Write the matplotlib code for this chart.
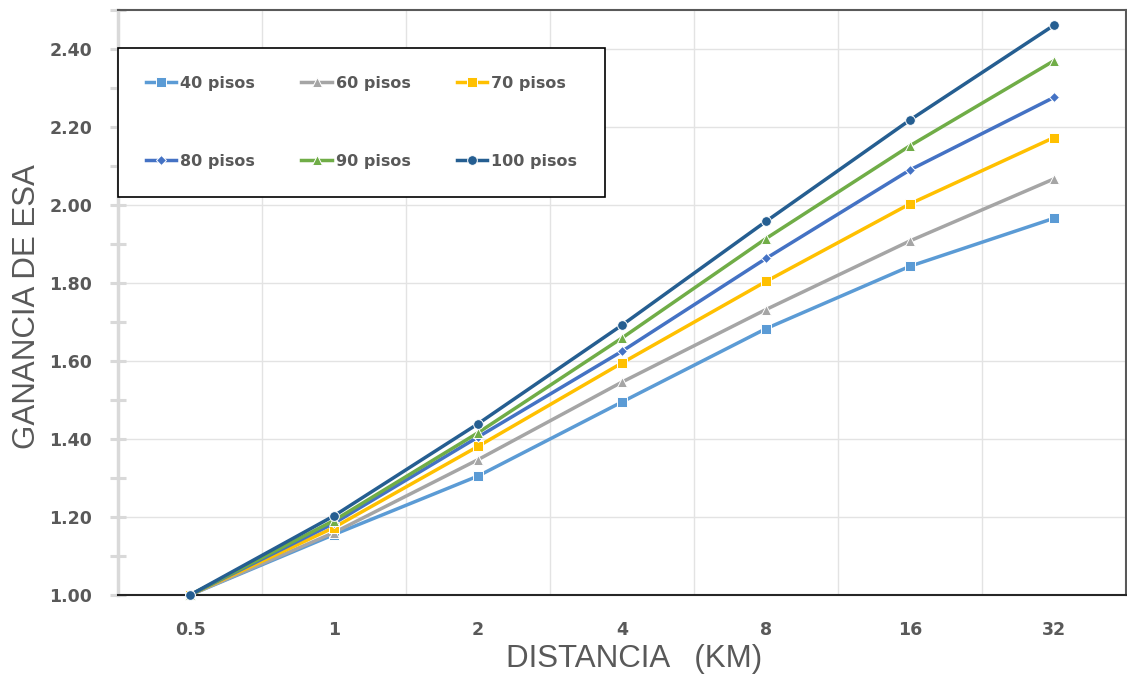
import numpy as np
import matplotlib
matplotlib.use('Agg')
import matplotlib.pyplot as plt
from matplotlib.ticker import MultipleLocator, FixedLocator

# Datos
distancias = ['0.5', '1', '2', '4', '8', '16', '32']
series = ['40 pisos', '60 pisos', '70 pisos', '80 pisos', '90 pisos', '100 pisos']
g40 = [1.00, 1.155, 1.305, 1.495, 1.683, 1.843, 1.966]
g60 = [1.00, 1.160, 1.347, 1.546, 1.732, 1.908, 2.067]
g70 = [1.00, 1.173, 1.381, 1.595, 1.804, 2.003, 2.173]
g80 = [1.00, 1.184, 1.405, 1.625, 1.863, 2.090, 2.276]
g90 = [1.00, 1.191, 1.416, 1.659, 1.914, 2.152, 2.370]
g100 = [1.00, 1.203, 1.439, 1.692, 1.958, 2.218, 2.461]

colores = ['#5B9BD5', '#A5A5A5', '#FFC000', '#4472C4', '#70AD47', '#255E91']
marcadores = ['s', '^', 's', 'D', '^', 'o']
tam_marc = [6.5, 7, 7, 5.5, 7, 7]

gris = '#595959'

fig = plt.figure(figsize=(11.27, 6.78), dpi=100)
ax = fig.add_axes([118 / 1127, 1 - 595 / 678, 1008 / 1127, 585 / 678])

x = np.arange(len(distancias))
lineas = []
for valores, nombre, c, m, ms in zip([g40, g60, g70, g80, g90, g100], series,
                                     colores, marcadores, tam_marc):
    l, = ax.plot(x, valores, color=c, lw=2.5, marker=m, markersize=ms,
                 markerfacecolor=c, markeredgecolor='white', markeredgewidth=0.7,
                 label=nombre, clip_on=False, zorder=3)
    lineas.append(l)

ax.set_xlim(-0.5, len(distancias) - 0.5)
ax.set_ylim(1.0, 2.5)

# eje y
ax.set_yticks(np.arange(1.0, 2.41, 0.2))
ax.set_yticklabels(['%.2f' % v for v in np.arange(1.0, 2.41, 0.2)])
ax.yaxis.set_minor_locator(MultipleLocator(0.1))
ax.tick_params(axis='y', which='both', direction='inout', length=11, width=2.2,
               color='#d9d9d9', pad=13)
ax.tick_params(axis='y', which='major', labelsize=12.5, labelcolor=gris)
for t in ax.get_yticklabels():
    t.set_fontweight('bold')

# eje x
ax.set_xticks(x)
ax.set_xticklabels(distancias)
ax.xaxis.set_minor_locator(FixedLocator(np.arange(-0.5, len(distancias), 1.0)))
ax.tick_params(axis='x', which='both', length=0, pad=19, labelsize=12.5,
               labelcolor=gris)
for t in ax.get_xticklabels():
    t.set_fontweight('bold')

# rejilla
ax.grid(axis='y', which='major', color='#e3e3e3', lw=1.0)
ax.grid(axis='x', which='minor', color='#e3e3e3', lw=1.0)
ax.set_axisbelow(True)

# bordes
ax.spines['left'].set_color('#d9d9d9')
ax.spines['left'].set_linewidth(2.5)
ax.spines['bottom'].set_color('#262626')
ax.spines['bottom'].set_linewidth(1.5)
ax.spines['top'].set_color('#595959')
ax.spines['top'].set_linewidth(1.5)
ax.spines['right'].set_color('#595959')
ax.spines['right'].set_linewidth(1.5)

# titulos de ejes
ax.set_xlabel('DISTANCIA   (KM)', fontsize=22.5, color=gris,
              family=['Liberation Sans', 'DejaVu Sans'])
ax.set_ylabel('GANANCIA DE ESA', fontsize=22.5, color=gris,
              family=['Liberation Sans', 'DejaVu Sans'])
ax.xaxis.set_label_coords((634 - 118) / 1008, -(644 - 595) / 585)
ax.yaxis.set_label_coords(-(118 - 42) / 1008, (595 - 307) / 585)

# leyenda (orden por filas como en el original)
orden = [0, 3, 1, 4, 2, 5]
leg = ax.legend([lineas[i] for i in orden], [series[i] for i in orden],
                loc='upper left', bbox_to_anchor=(0.0, (595 - 48) / 585),
                ncol=3, frameon=True, fancybox=False, framealpha=1,
                edgecolor='black', borderaxespad=0, borderpad=1.75,
                labelspacing=3.95, handlelength=1.9, handletextpad=0.25,
                columnspacing=2.9, prop={'size': 11.5, 'weight': 'bold'})
leg.get_frame().set_linewidth(1.2)
for t in leg.get_texts():
    t.set_color(gris)

plt.savefig('out.png', dpi=100)
